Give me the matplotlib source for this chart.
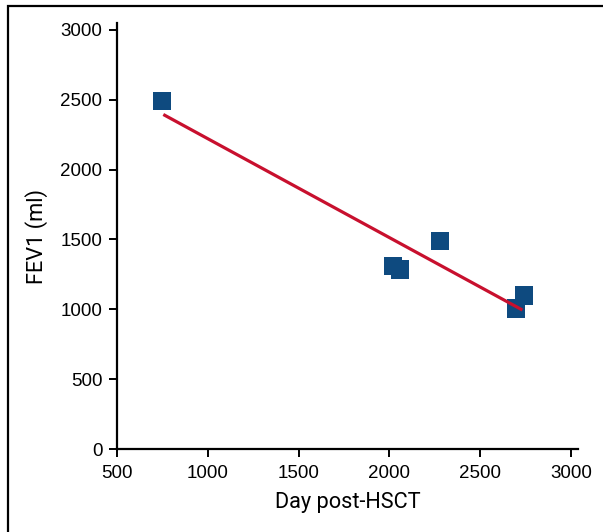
import matplotlib
matplotlib.use("Agg")
import matplotlib.pyplot as plt
from matplotlib.patches import Rectangle

plt.rcParams['font.family'] = ['Liberation Sans', 'DejaVu Sans']

day = [748, 2019, 2057, 2278, 2740, 2696]
fev1 = [2490, 1308, 1286, 1487, 1100, 1007]
trend_x = [755, 2732]
trend_y = [2395, 995]
xticks = [500, 1000, 1500, 2000, 2500, 3000]
yticks = [0, 500, 1000, 1500, 2000, 2500, 3000]

fig = plt.figure(figsize=(6.03, 5.32), dpi=100)
ax = fig.add_axes([117/603, 1-449/532, (578-117)/603, (449-23)/532])

ax.plot(trend_x, trend_y, color='#c8102e', lw=2.3, solid_capstyle='butt', zorder=3)
ax.scatter(day, fev1, marker='s', s=175, color='#0e4a7f', edgecolors='none', zorder=2)

ax.set_xlim(500, 3038)
ax.set_ylim(0, 3050)
ax.set_xticks(xticks)
ax.set_yticks(yticks)
for s in ['top', 'right']:
    ax.spines[s].set_visible(False)
for s in ['left', 'bottom']:
    ax.spines[s].set_linewidth(1.6)
ax.tick_params(direction='out', length=5.5, width=1.4, labelsize=13.5)
ax.tick_params(axis='y', pad=5)
ax.tick_params(axis='x', pad=6)
ax.set_xlabel('Day post-HSCT', fontsize=15.7, family=['Roboto', 'DejaVu Sans'], labelpad=7)
ax.set_ylabel('FEV1 (ml)', fontsize=15.7, family=['Roboto', 'DejaVu Sans'], labelpad=9)

fig.add_artist(Rectangle((8/603, -0.1), 1.2, 1 - 6/532 + 0.1, transform=fig.transFigure,
                         fill=False, edgecolor='black', lw=1.6))

fig.savefig('out.png', dpi=100)
